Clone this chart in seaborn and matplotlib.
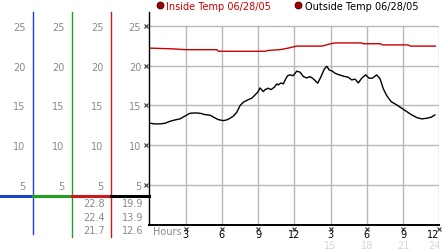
import numpy as np
import matplotlib
matplotlib.use("Agg")
import matplotlib.pyplot as plt
import matplotlib.transforms as mtransforms
from matplotlib.lines import Line2D
import seaborn as sns

# hours since midnight, 06/28/05
inside_hours = [0.0, 2.0, 3.0, 5.6, 5.7, 9.6, 9.8, 10.8, 11.5, 12.2, 14.3, 15.0,
                15.4, 17.6, 17.7, 19.1, 19.3, 21.4, 21.6, 23.7]
inside_temp = [22.2, 22.1, 22.0, 22.0, 21.8, 21.8, 21.9, 22.0, 22.2, 22.45, 22.45, 22.75,
               22.85, 22.85, 22.75, 22.75, 22.6, 22.6, 22.45, 22.45]

outside_hours = [0.06, 0.47, 0.89, 1.30, 1.71, 2.13, 2.54, 2.96, 3.37, 3.78, 4.20, 4.61,
                 5.03, 5.44, 5.71, 6.13, 6.41, 6.68, 6.95, 7.24, 7.51, 7.78, 8.20, 8.48,
                 8.75, 8.97, 9.16, 9.44, 9.58, 9.85, 10.07, 10.35, 10.55, 10.68, 10.90,
                 11.09, 11.29, 11.46, 11.65, 11.92, 12.20, 12.48, 12.75, 13.03, 13.30,
                 13.58, 13.94, 14.21, 14.49, 14.69, 14.88, 15.15, 15.37, 15.65, 15.93,
                 16.20, 16.47, 16.75, 17.03, 17.30, 17.58, 17.91, 18.19, 18.46, 18.82,
                 19.10, 19.37, 19.65, 20.01, 20.48, 20.89, 21.31, 21.72, 22.14, 22.55,
                 22.96, 23.32, 23.65]
outside_temp = [12.75, 12.67, 12.67, 12.75, 13.0, 13.17, 13.3, 13.67, 14.01, 14.05, 14.01,
                13.84, 13.76, 13.42, 13.21, 13.08, 13.17, 13.38, 13.64, 14.14, 14.97, 15.4,
                15.72, 15.9, 16.31, 16.65, 17.19, 16.73, 16.98, 17.16, 16.98, 17.28, 17.7,
                17.57, 17.82, 17.7, 18.33, 18.74, 18.83, 18.74, 19.3, 19.17, 18.62, 18.45,
                18.62, 18.33, 17.79, 18.62, 19.58, 19.92, 19.46, 19.3, 19.04, 18.87, 18.74,
                18.62, 18.54, 18.2, 18.3, 17.82, 18.42, 18.83, 18.42, 18.42, 18.83, 18.33,
                17.07, 16.23, 15.47, 15.06, 14.64, 14.21, 13.8, 13.46, 13.3, 13.38, 13.51,
                13.8]

inside_stats = ["22.8", "22.4", "21.7"]
outside_stats = ["19.9", "13.9", "12.6"]

x_ticks = [3, 6, 9, 12, 15, 18, 21, 24]
x_labels = ["3", "6", "9", "12", "3", "6", "9", "12"]
x_labels_24h = ["15", "18", "21", "24"]
y_ticks = [5, 10, 15, 20, 25]

W, H = 442, 253
GRAY = "#8a8a8a"
RED = "#cc0000"
panel_colors = ["#1a44c8", "#22a022", "#cc1a1a", "black"]
panel_edges = [0, 33.3, 72.3, 111.3, 149.3]

sns.set_style("white")
plt.rcParams["font.family"] = ["DejaVu Sans"]
plt.rcParams["font.size"] = 7

fig = plt.figure(figsize=(W / 100, H / 100), dpi=100)

top_px, base_px, panel_base_px = 12.5, 225.7, 197.0
ymax = 26.8
ax = fig.add_axes([149.3 / W, (H - base_px) / H, 290 / W, (base_px - top_px) / H])
ax.set_xlim(0, 24)
ax.set_ylim(0, ymax)

# grid
ax.vlines(x_ticks, 0, 25, color="#b8b8b8", lw=1, zorder=0)
ax.hlines(y_ticks, 0, 24, color="#b8b8b8", lw=1, zorder=0)

sns.lineplot(x=inside_hours, y=inside_temp, color=RED, lw=1, ax=ax)
sns.lineplot(x=outside_hours, y=outside_temp, color="black", lw=1, ax=ax)

for s in ["top", "right"]:
    ax.spines[s].set_visible(False)
ax.spines["left"].set_linewidth(1.0)
ax.spines["bottom"].set_linewidth(1.4)
ax.spines["left"].set_color("black")
ax.spines["bottom"].set_color("black")

ax.set_yticks(y_ticks)
ax.set_yticklabels([str(v) for v in y_ticks], color=GRAY)
ax.set_xticks(x_ticks)
ax.set_xticklabels(x_labels, color="black")
ax.get_xticklabels()[-1].set_ha("right")
ax.tick_params(axis="y", length=0, pad=5.8)
ax.tick_params(axis="x", length=0, pad=3.4)

# little dotted tick marks
ytr = mtransforms.offset_copy(ax.transData, fig=fig, x=-3.6, y=0, units="dots")
ax.plot(np.zeros(len(y_ticks)), y_ticks, "x", ms=2.6, mew=0.8, color="#333333",
        transform=ytr, clip_on=False)
xtr = mtransforms.offset_copy(ax.transData, fig=fig, x=0, y=-3.8, units="dots")
ax.plot(x_ticks, np.zeros(len(x_ticks)), "x", ms=2.6, mew=0.8, color="#333333",
        transform=xtr, clip_on=False)

xax = ax.get_xaxis_transform()
ax.text(0.3, -0.03, "Hours", color=GRAY, ha="left", va="center", transform=xax)
for xt, lab in zip(x_ticks[4:], x_labels_24h):
    ax.text(xt + (0.15 if xt == 24 else 0), -0.095, lab, color="#d6d6d6",
            ha="right" if xt == 24 else "center", va="center", transform=xax)

# legend
handles = [Line2D([], [], ls="none", marker="o", ms=5, mfc="#a00000", mec="#400000", mew=0.6),
           Line2D([], [], ls="none", marker="o", ms=5, mfc="#a00000", mec="#400000", mew=0.6)]
leg = ax.legend(handles, ["Inside Temp 06/28/05", "Outside Temp 06/28/05"], ncol=2,
                loc="center left", bbox_to_anchor=(156 / W, 1 - 6.7 / H),
                bbox_transform=fig.transFigure, frameon=False, borderpad=0,
                borderaxespad=0, handlelength=0.8, handletextpad=0.25,
                columnspacing=2.4, fontsize=7)
leg.get_texts()[0].set_color(RED)
leg.get_texts()[1].set_color("black")

# left-hand axis panels
ph = (panel_base_px - top_px) / H
pb = (H - panel_base_px) / H
ylow = (base_px - panel_base_px) / ((base_px - top_px) / ymax)
ext = [-1.2, -1.55, -1.55, 0.0]
stats = [None, None, inside_stats, outside_stats]
for i, c in enumerate(panel_colors):
    x0, x1 = panel_edges[i], panel_edges[i + 1]
    pax = fig.add_axes([x0 / W, pb, (x1 - x0) / W, ph])
    pax.set_xlim(0, 1)
    pax.set_ylim(ylow, ymax)
    pax.set_facecolor("none")
    pax.set_xticks([])
    for s in ["top", "left"]:
        pax.spines[s].set_visible(False)
    pax.spines["bottom"].set_color(c)
    pax.spines["bottom"].set_linewidth(2.2)
    pax.spines["right"].set_color(c)
    pax.spines["right"].set_linewidth(1.0)
    pax.spines["right"].set_bounds(ext[i], ymax)
    if i == 3:
        pax.spines["right"].set_visible(False)
        pax.set_yticks([])
    else:
        pax.set_yticks(y_ticks)
        pax.tick_params(axis="y", left=False, labelleft=False, right=False,
                        labelright=True, pad=-9.2, labelcolor=GRAY)
        for lab in pax.get_yticklabels():
            lab.set_ha("right")
    if stats[i] is not None:
        for k, val in enumerate(stats[i]):
            pax.annotate(val, xy=(1, 0), xycoords="axes fraction",
                         xytext=(-4.4, -5.0 - 9.9 * k), textcoords="offset points",
                         ha="right", va="center", color=GRAY, fontsize=7)

fig.savefig("out.png", dpi=100)
